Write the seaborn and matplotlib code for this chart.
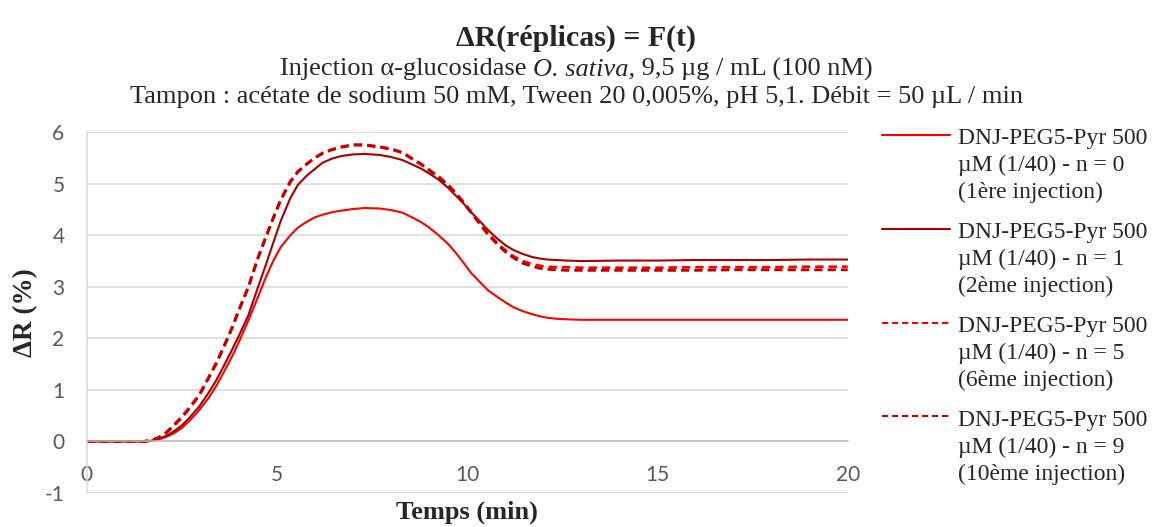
import matplotlib
matplotlib.use("Agg")
import matplotlib.pyplot as plt
from matplotlib.offsetbox import TextArea, HPacker, AnchoredOffsetbox
import seaborn as sns
import pandas as pd

# temps (min) et ΔR (%)
t_min = [0, 0.5, 1.0, 1.5, 1.7, 1.9, 2.1, 2.3, 2.5, 2.7, 2.95, 3.2, 3.4, 3.6, 3.8, 4.0,
         4.25, 4.5, 4.7, 4.9, 5.1, 5.35, 5.55, 5.8, 6.0, 6.2, 6.45, 6.7, 7.0, 7.3, 7.7,
         8.0, 8.3, 8.6, 8.8, 9.0, 9.25, 9.5, 9.7, 9.9, 10.1, 10.35, 10.55, 10.8, 11.0,
         11.2, 11.45, 11.7, 11.9, 12.1, 12.35, 12.6, 13, 14, 15, 16, 17, 18, 19, 20]
dr_n0 = [0, 0, 0, 0, 0.01, 0.04, 0.09, 0.16, 0.26, 0.40, 0.60, 0.84, 1.07, 1.34, 1.62, 1.93,
         2.35, 2.80, 3.17, 3.50, 3.77, 4.00, 4.15, 4.27, 4.35, 4.40, 4.45, 4.48, 4.51, 4.53, 4.52,
         4.49, 4.44, 4.33, 4.25, 4.15, 4.00, 3.83, 3.66, 3.47, 3.27, 3.08, 2.93, 2.80, 2.70,
         2.61, 2.53, 2.47, 2.43, 2.40, 2.38, 2.37, 2.36, 2.36, 2.36, 2.36, 2.36, 2.36, 2.36, 2.36]
dr_n1 = [0, 0, 0, 0, 0.01, 0.05, 0.11, 0.20, 0.31, 0.46, 0.67, 0.94, 1.18, 1.46, 1.75, 2.05,
         2.45, 2.99, 3.41, 3.85, 4.28, 4.72, 4.98, 5.17, 5.29, 5.41, 5.49, 5.54, 5.57, 5.58, 5.56,
         5.52, 5.46, 5.36, 5.29, 5.20, 5.08, 4.92, 4.77, 4.62, 4.45, 4.26, 4.10, 3.93, 3.81,
         3.72, 3.64, 3.58, 3.55, 3.53, 3.52, 3.51, 3.50, 3.51, 3.51, 3.52, 3.52, 3.52, 3.53, 3.53]
dr_n5 = [0, 0, 0, 0, 0.02, 0.08, 0.18, 0.33, 0.48, 0.66, 0.90, 1.24, 1.52, 1.84, 2.18, 2.56,
         3.01, 3.57, 3.96, 4.34, 4.70, 5.05, 5.24, 5.40, 5.51, 5.60, 5.67, 5.72, 5.76, 5.76, 5.72,
         5.68, 5.61, 5.47, 5.38, 5.27, 5.14, 4.98, 4.82, 4.65, 4.46, 4.22, 4.04, 3.84, 3.71,
         3.60, 3.50, 3.44, 3.41, 3.39, 3.38, 3.38, 3.37, 3.37, 3.37, 3.38, 3.38, 3.38, 3.39, 3.39]
dr_n9 = [0, 0, 0, 0, 0.02, 0.07, 0.17, 0.31, 0.46, 0.64, 0.88, 1.22, 1.50, 1.82, 2.16, 2.54,
         2.99, 3.55, 3.94, 4.32, 4.68, 5.03, 5.23, 5.39, 5.50, 5.59, 5.66, 5.71, 5.75, 5.75, 5.71,
         5.67, 5.60, 5.46, 5.37, 5.26, 5.13, 4.97, 4.81, 4.63, 4.44, 4.20, 4.01, 3.82, 3.68,
         3.57, 3.46, 3.40, 3.36, 3.34, 3.33, 3.32, 3.32, 3.32, 3.32, 3.32, 3.33, 3.33, 3.33, 3.33]

labels = ["DNJ-PEG5-Pyr 500\nµM (1/40) - n = 0\n(1ère injection)",
          "DNJ-PEG5-Pyr 500\nµM (1/40) - n = 1\n(2ème injection)",
          "DNJ-PEG5-Pyr 500\nµM (1/40) - n = 5\n(6ème injection)",
          "DNJ-PEG5-Pyr 500\nµM (1/40) - n = 9\n(10ème injection)"]
colors = ["#FF0000", "#A50000", "#FF0000", "#C00000"]
dashed = [False, False, True, True]

sns.set_style("white")
plt.rcParams["axes.unicode_minus"] = False

fig = plt.figure(figsize=(11.53, 5.27), dpi=100)
ax = fig.add_axes([0.0752, 0.0647, 0.66, 0.6843])

for vals, lab, col, dsh in zip([dr_n0, dr_n1, dr_n5, dr_n9], labels, colors, dashed):
    df = pd.DataFrame({"t": t_min, "dr": vals})
    if dsh:
        sns.lineplot(data=df, x="t", y="dr", ax=ax, color=col, linewidth=2.0,
                     linestyle=(0, (3, 1.8)), label=lab)
    else:
        sns.lineplot(data=df, x="t", y="dr", ax=ax, color=col, linewidth=1.5, label=lab)

ax.set_xlim(0, 20)
ax.set_ylim(-1, 6)
ax.set_xticks([0, 5, 10, 15, 20])
ax.set_yticks(range(-1, 7))
ax.grid(axis="y", color="#D9D9D9", linewidth=1.1)
ax.set_axisbelow(True)
for s in ["top", "right"]:
    ax.spines[s].set_visible(False)
ax.spines["bottom"].set_position(("data", 0))
ax.spines["bottom"].set_color("#BFBFBF")
ax.spines["bottom"].set_linewidth(1.1)
ax.spines["left"].set_color("#D9D9D9")
ax.spines["left"].set_linewidth(1.1)
ax.tick_params(axis="x", length=0, pad=17, labelsize=15, labelcolor="#595959")
ax.tick_params(axis="y", length=0, pad=16, labelsize=15, labelcolor="#595959")
for lbl in ax.get_xticklabels() + ax.get_yticklabels():
    lbl.set_family("Lato")

ax.set_xlabel("")
ax.set_ylabel("")
fig.text(0.405, 1 - 512 / 527, "Temps (min)", ha="center", va="center",
         family="Liberation Serif", fontweight="bold", fontsize=19)
fig.text(26 / 1153, 1 - 313 / 527, "ΔR (%)", ha="center", va="center", rotation=90,
         family="Liberation Serif", fontweight="bold", fontsize=19.5)

fig.text(0.5, 1 - 38 / 527, "ΔR(réplicas) = F(t)", ha="center", va="center",
         family="Liberation Serif", fontweight="bold", fontsize=21.5)

# sous-titre avec la partie en italique
sub_font = {"family": "Liberation Serif", "size": 19}
parts = HPacker(children=[
    TextArea("Injection α-glucosidase ", textprops=sub_font),
    TextArea("O. sativa,", textprops=dict(sub_font, style="italic")),
    TextArea(" 9,5 µg / mL (100 nM)", textprops=sub_font)], pad=0, sep=0, align="baseline")
box = AnchoredOffsetbox(loc="center", child=parts, frameon=False, pad=0, borderpad=0,
                        bbox_to_anchor=(0.5, 1 - 69 / 527), bbox_transform=fig.transFigure)
fig.add_artist(box)
fig.text(0.5, 1 - 97 / 527,
         "Tampon : acétate de sodium 50 mM, Tween 20 0,005%, pH 5,1. Débit = 50 µL / min",
         ha="center", va="center", family="Liberation Serif", fontsize=19)

leg = ax.legend(loc="upper left", bbox_to_anchor=(882 / 1153, 1 - 128 / 527),
                bbox_transform=fig.transFigure, frameon=False, borderpad=0,
                borderaxespad=0, handlelength=2.9, handletextpad=0.3,
                labelspacing=0.8, prop={"family": "Liberation Serif", "size": 17})
for txt in leg.get_texts():
    txt.set_linespacing(1.36)
for ln in leg.get_lines():
    y = ln.get_ydata()
    ln.set_ydata([v + 22 for v in y])
    if ln.get_linestyle() != "-":
        ln.set_linewidth(1.5)

fig.savefig("out.png", dpi=100)
